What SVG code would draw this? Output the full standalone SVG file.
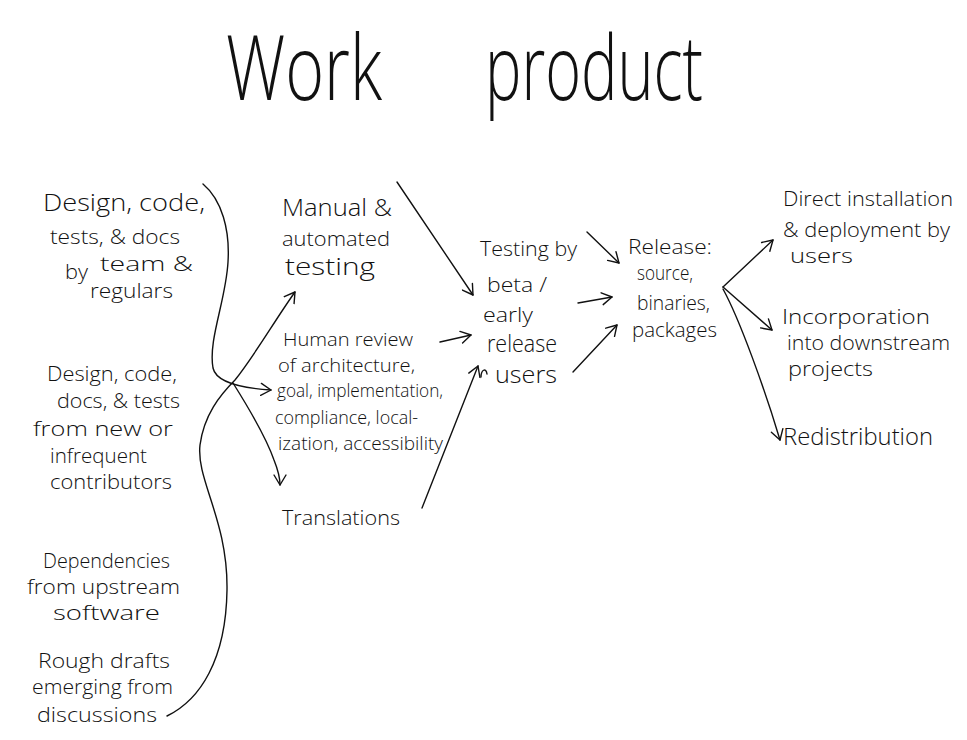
<svg xmlns="http://www.w3.org/2000/svg" width="967" height="740" viewBox="0 0 967 740">
<style>
  text { font-family: "Open Sans", "Lato", "DejaVu Sans", sans-serif; font-weight: 300; fill: #111; font-size: 22px; }
  .title { font-size: 90px; }
  .sm { font-size: 18px; }
  .md { font-size: 21px; }
  .lg { font-size: 24px; }
  .wire { fill: none; stroke: #111; stroke-width: 1.4; stroke-linecap: round; stroke-linejoin: round; }
</style>
<defs>
  <marker id="ah" markerUnits="userSpaceOnUse" markerWidth="14" markerHeight="14" refX="11" refY="7" orient="auto">
    <path d="M1,1 L11,7 L1,13" fill="none" stroke="#111" stroke-width="1.4" stroke-linecap="round" stroke-linejoin="round"/>
  </marker>
</defs>
<rect width="967" height="740" fill="#fff"/>

<g id="title">
  <text class="title" x="226" y="100" textLength="156" lengthAdjust="spacingAndGlyphs">Work</text>
  <text class="title" x="485" y="100" textLength="218" lengthAdjust="spacingAndGlyphs">product</text>
</g>

<g id="src-team">
  <text class="lg" x="43" y="211" textLength="162" lengthAdjust="spacingAndGlyphs">Design, code,</text>
  <text class="md" x="50" y="244" textLength="130" lengthAdjust="spacingAndGlyphs">tests, &amp; docs</text>
  <text class="md"><tspan x="65" y="279" textLength="23" lengthAdjust="spacingAndGlyphs">by</tspan><tspan x="100" y="271" textLength="93" lengthAdjust="spacingAndGlyphs">team &amp;</tspan></text>
  <text class="md" x="90" y="298" textLength="83" lengthAdjust="spacingAndGlyphs">regulars</text>
</g>

<g id="src-new">
  <text class="md" x="47" y="381" textLength="130" lengthAdjust="spacingAndGlyphs">Design, code,</text>
  <text class="md" x="57" y="408" textLength="123" lengthAdjust="spacingAndGlyphs">docs, &amp; tests</text>
  <text class="md" x="33" y="436" textLength="140" lengthAdjust="spacingAndGlyphs">from new or</text>
  <text class="md" x="50" y="463" textLength="97" lengthAdjust="spacingAndGlyphs">infrequent</text>
  <text class="md" x="50" y="489" textLength="122" lengthAdjust="spacingAndGlyphs">contributors</text>
</g>

<g id="src-deps">
  <text class="md" x="43" y="568" textLength="127" lengthAdjust="spacingAndGlyphs">Dependencies</text>
  <text class="md" x="27" y="594" textLength="153" lengthAdjust="spacingAndGlyphs">from upstream</text>
  <text class="md" x="53" y="620" textLength="107" lengthAdjust="spacingAndGlyphs">software</text>
</g>

<g id="src-drafts">
  <text class="md" x="38" y="668" textLength="132" lengthAdjust="spacingAndGlyphs">Rough drafts</text>
  <text class="md" x="32" y="694" textLength="141" lengthAdjust="spacingAndGlyphs">emerging from</text>
  <text class="md" x="37" y="722" textLength="120" lengthAdjust="spacingAndGlyphs">discussions</text>
</g>

<g id="auto-testing">
  <text class="lg" x="282" y="216" textLength="110" lengthAdjust="spacingAndGlyphs">Manual &amp;</text>
  <text class="md" x="282" y="246" textLength="108" lengthAdjust="spacingAndGlyphs">automated</text>
  <text class="lg" x="285" y="275" textLength="90" lengthAdjust="spacingAndGlyphs">testing</text>
</g>

<g id="human-review">
  <text class="sm" x="283" y="346" textLength="130" lengthAdjust="spacingAndGlyphs">Human review</text>
  <text class="sm" x="278" y="372" textLength="137" lengthAdjust="spacingAndGlyphs">of architecture,</text>
  <text class="sm" x="277" y="397" textLength="166" lengthAdjust="spacingAndGlyphs">goal, implementation,</text>
  <text class="sm" x="275" y="424" textLength="143" lengthAdjust="spacingAndGlyphs">compliance, local-</text>
  <text class="sm" x="278" y="450" textLength="165" lengthAdjust="spacingAndGlyphs">ization, accessibility</text>
</g>

<g id="translations">
  <text class="md" x="282" y="525" textLength="118" lengthAdjust="spacingAndGlyphs">Translations</text>
</g>

<g id="beta-testing">
  <text class="md" x="480" y="256" textLength="97" lengthAdjust="spacingAndGlyphs">Testing by</text>
  <text class="md" x="487" y="292" textLength="60" lengthAdjust="spacingAndGlyphs">beta /</text>
  <text class="md" x="483" y="322" textLength="50" lengthAdjust="spacingAndGlyphs">early</text>
  <text class="lg" x="487" y="352" textLength="70" lengthAdjust="spacingAndGlyphs">release</text>
  <text class="lg" x="495" y="383" textLength="62" lengthAdjust="spacingAndGlyphs">users</text>
</g>

<g id="release">
  <text class="md" x="628" y="254" textLength="84" lengthAdjust="spacingAndGlyphs">Release:</text>
  <text class="md" x="637" y="280" textLength="56" lengthAdjust="spacingAndGlyphs">source,</text>
  <text class="md" x="637" y="310" textLength="73" lengthAdjust="spacingAndGlyphs">binaries,</text>
  <text class="md" x="632" y="337" textLength="85" lengthAdjust="spacingAndGlyphs">packages</text>
</g>

<g id="direct-install">
  <text class="md" x="783" y="206" textLength="170" lengthAdjust="spacingAndGlyphs">Direct installation</text>
  <text class="md" x="783" y="237" textLength="167" lengthAdjust="spacingAndGlyphs">&amp; deployment by</text>
  <text class="md" x="790" y="263" textLength="63" lengthAdjust="spacingAndGlyphs">users</text>
</g>

<g id="downstream">
  <text class="md" x="782" y="324" textLength="148" lengthAdjust="spacingAndGlyphs">Incorporation</text>
  <text class="md" x="787" y="350" textLength="163" lengthAdjust="spacingAndGlyphs">into downstream</text>
  <text class="md" x="788" y="376" textLength="85" lengthAdjust="spacingAndGlyphs">projects</text>
</g>

<g id="redistribution">
  <text class="lg" x="783" y="445" textLength="150" lengthAdjust="spacingAndGlyphs">Redistribution</text>
</g>

<g id="connectors">
  <path class="wire" d="M203,184 C222,200 230,230 228,262 C226,300 208,340 213,368 C216,382 240,388 271,390" marker-end="url(#ah)"/>
  <path class="wire" d="M167,716 C200,700 226,660 227,590 C228,520 196,480 200,445 C204,415 220,395 235,380 C255,355 275,320 295,292" marker-end="url(#ah)"/>
  <path class="wire" d="M233,383 C250,410 267,440 274,460 C278,470 280,478 280,485" marker-end="url(#ah)"/>
  <path class="wire" d="M397,182 L473,295" marker-end="url(#ah)"/>
  <path class="wire" d="M440,342 L471,335" marker-end="url(#ah)"/>
  <path class="wire" d="M422,508 L478,366" marker-end="url(#ah)"/>
  <path class="wire" d="M481,377 C481,370 486,367 487,374"/>
  <path class="wire" d="M587,232 L619,263" marker-end="url(#ah)"/>
  <path class="wire" d="M578,303 L612,297" marker-end="url(#ah)"/>
  <path class="wire" d="M573,372 L617,325" marker-end="url(#ah)"/>
  <path class="wire" d="M723,287 L773,240" marker-end="url(#ah)"/>
  <path class="wire" d="M723,287 L772,330" marker-end="url(#ah)"/>
  <path class="wire" d="M723,289 C740,320 765,390 780,440" marker-end="url(#ah)"/>
</g>
</svg>
